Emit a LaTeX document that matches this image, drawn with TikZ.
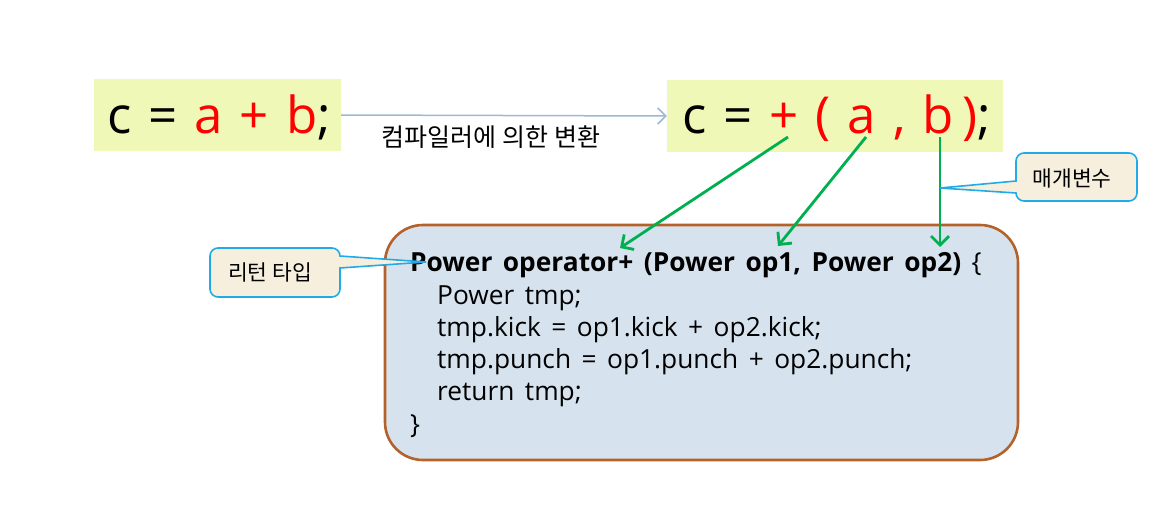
\documentclass[tikz,border=0pt]{standalone}
\usepackage{fontspec}
\setmainfont{Open Sans}
\newfontfamily\kr{Noto Sans CJK KR}
\usetikzlibrary{arrows.meta}
\newcommand{\mycodefont}{\fontsize{26.3}{30}\selectfont\spaceskip=10.5pt plus 1pt minus 1pt\relax}
\definecolor{hlbg}{HTML}{F0F8B8}
\definecolor{convblue}{HTML}{9DB8D6}
\definecolor{codebg}{HTML}{D6E3EE}
\definecolor{codeborder}{HTML}{B5622A}
\definecolor{callbg}{HTML}{F6EFDD}
\definecolor{callborder}{HTML}{22AAE8}
\definecolor{arrgreen}{HTML}{00B050}
\definecolor{opred}{HTML}{FF0000}
\tikzset{
  exprbox/.style={fill=hlbg, draw=none, minimum height=72pt, inner sep=0pt},
  exprtext/.style={font=\fontsize{51}{54}\selectfont, anchor=base west, inner sep=0pt},
  codeline/.style={font=\mycodefont, anchor=base west, inner sep=0pt},
  callbox/.style={fill=callbg, draw=callborder, line width=1.6pt},
  calltext/.style={font=\kr\fontsize{21.5}{24}\selectfont, inner sep=0pt},
  paramarrow/.style={draw=arrgreen, line width=2.8pt, -{Straight Barb[length=9pt,width=18pt]}},
}
\begin{document}
\begin{tikzpicture}[x=1pt,y=-1pt]
\useasboundingbox (0,0) rectangle (1160,517);
% highlighted expressions
\node[exprbox, minimum width=247pt] (lbox) at (217.5,115) {};
\node[exprtext] (ltext) at (107,133) {c\,\,=\,\,\textcolor{opred}{a\,\,+\,\,b};};
\node[exprbox, minimum width=336pt] (rbox) at (835,116) {};
\node[exprtext] (rtext) at (682,133) {c\,\,=\,\,\textcolor{opred}{+\,\,(\,\,a\,\,,\,\,b\,)};};
% conversion arrow
\draw[convblue, line width=1.5pt, -{Straight Barb[length=8pt,width=16pt]}] (lbox.east) -- (rbox.west);
\node[font=\kr\fontsize{25}{28}\selectfont, inner sep=0pt] (conv) at (491,137) {컴파일러에 의한 변환};
% code box
\draw[fill=codebg, draw=codeborder, line width=2.6pt, rounded corners=38pt] (385,225) rectangle (1018,460);
\node[codeline] (l1) at (410,271) {\textbf{Power operator+ (Power op1, Power op2)} \{};
\node[codeline] (l2) at (437,304) {Power tmp;};
\node[codeline] (l3) at (437,336) {tmp.kick = op1.kick + op2.kick;};
\node[codeline] (l4) at (437,368) {tmp.punch = op1.punch + op2.punch;};
\node[codeline] (l5) at (437,400) {return tmp;};
\node[codeline] (l6) at (410,433) {\}};
% green arrows
\coordinate (plusfrom) at (788,137);
\coordinate (afrom) at (866,137);
\coordinate (bfrom) at (940,137);
\coordinate (plusto) at (620,248);
\coordinate (ato) at (778,246);
\coordinate (bto) at (940,247);
\draw[paramarrow] (plusfrom) -- (plusto);
\draw[paramarrow] (afrom) -- (ato);
\draw[paramarrow] (bfrom) -- (bto);
% callout: parameters
\coordinate (ptip) at (940,188);
\filldraw[callbox] (1016,181) [rounded corners=8pt] -- (1016,153) -- (1137,153) -- (1137,201) -- (1016,201) [sharp corners] -- (1016,193) -- (ptip) -- cycle;
\node[calltext] (ptext) at (1072,178) {매개변수};
% callout: return type
\coordinate (rtip) at (426,262);
\filldraw[callbox] (340,268) [rounded corners=8pt] -- (340,297) -- (210,297) -- (210,248) -- (340,248) [sharp corners] -- (340,256) -- (rtip) -- cycle;
\node[calltext] (rtextc) at (270,272) {리턴 타입};
\end{tikzpicture}
\end{document}
